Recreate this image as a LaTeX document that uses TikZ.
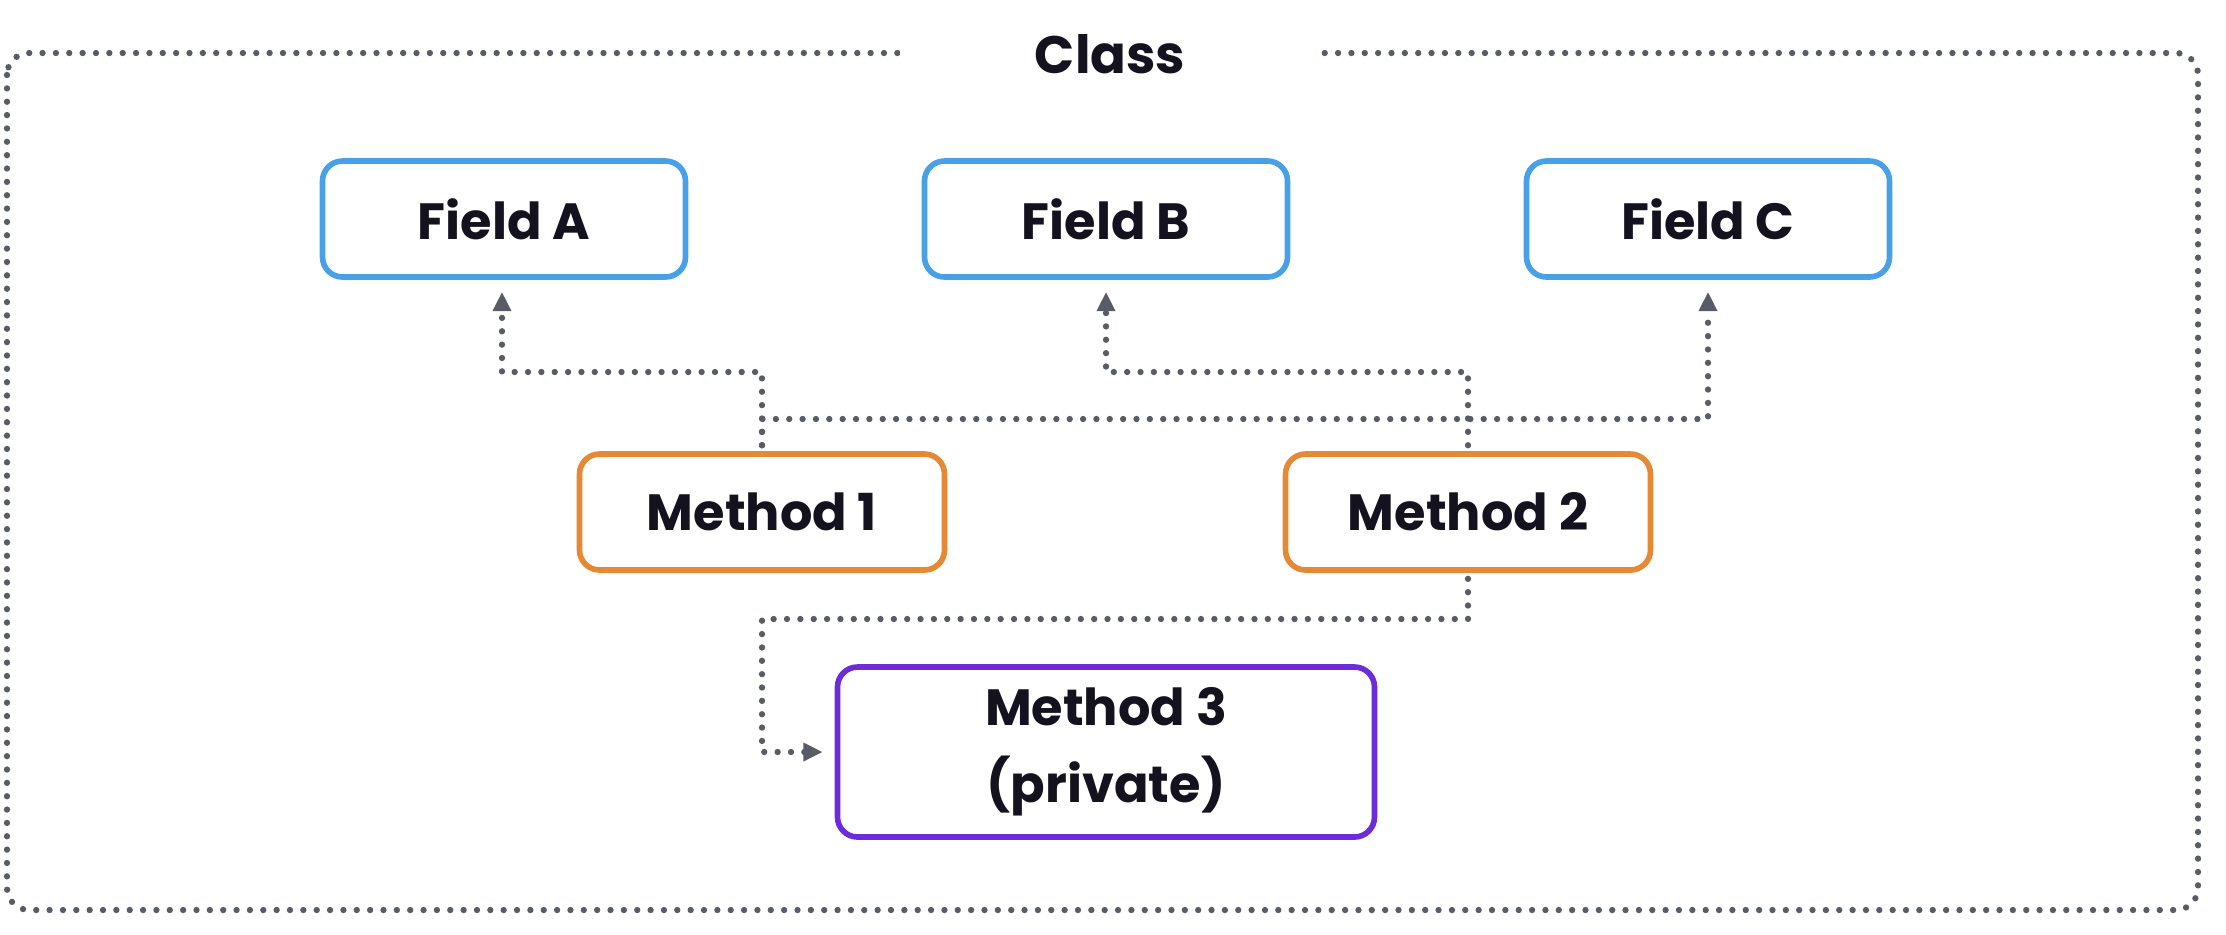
\documentclass[tikz,border=0pt]{standalone}
\usepackage{fontspec}
\setmainfont{Poppins}
\usetikzlibrary{positioning,arrows.meta}

\definecolor{fieldblue}{RGB}{72,160,230}
\definecolor{methorange}{RGB}{230,137,52}
\definecolor{privpurple}{RGB}{108,44,217}
\definecolor{dotgray}{RGB}{88,92,102}
\definecolor{inkdark}{RGB}{21,18,31}

\begin{document}
\begin{tikzpicture}[semithick]
\tikzset{
    box/.style= {draw, rounded corners=0.2cm, line width=1.6pt, fill=white,
        text=inkdark, font=\fontsize{14.5}{22}\selectfont\bfseries, align=center},
    fieldbox/.style= {box, draw=fieldblue, minimum width=3.63cm, minimum height=1.16cm},
    methodbox/.style= {box, draw=methorange, minimum width=3.65cm, minimum height=1.16cm},
    privbox/.style= {box, draw=privpurple, minimum width=5.37cm, minimum height=1.7cm},
    dots/.style= {dotgray, line width=1.8pt, line cap=round, dash pattern=on 0pt off 3.8pt},
    plink/.style= {dots, -{Triangle[width=5pt,length=5.5pt]}, shorten >=0.12cm, shorten <=0.06cm},
}
\useasboundingbox (0,0) rectangle (22.26,-9.34);

% class frame
\draw[dots, rounded corners=0.22cm] (0.07,-0.53) rectangle (21.98,-9.10);
\node[fill=white, minimum width=4.2cm, text=inkdark,
    font=\fontsize{15}{18}\selectfont\bfseries] (cls) at (11.1,-0.54) {Class};

% fields
\node[fieldbox] (fa) at (5.04,-2.19) {Field A};
\node[fieldbox] (fb) at (11.06,-2.19) {Field B};
\node[fieldbox] (fc) at (17.08,-2.19) {Field C};

% methods
\node[methodbox] (m1) at (7.62,-5.12) {Method 1};
\node[methodbox] (m2) at (14.68,-5.12) {Method 2};
\node[privbox] (m3) at (11.06,-7.52) {Method 3\\(private)};

\coordinate (ka) at (5.02,-3.72);
\coordinate (kb) at (11.06,-3.72);
\coordinate (kc) at (17.08,-4.19);
\coordinate (kp) at (7.62,-6.19);

\draw[plink] (m1.north) |- (ka) -- (fa.south -| ka);
\draw[plink] (m1.north) |- (kc) -- (fc.south);
\draw[plink] (m2.north) |- (kb) -- (fb.south);
\draw[plink] (m2.south) |- (kp) |- (m3.west);
\end{tikzpicture}
\end{document}
